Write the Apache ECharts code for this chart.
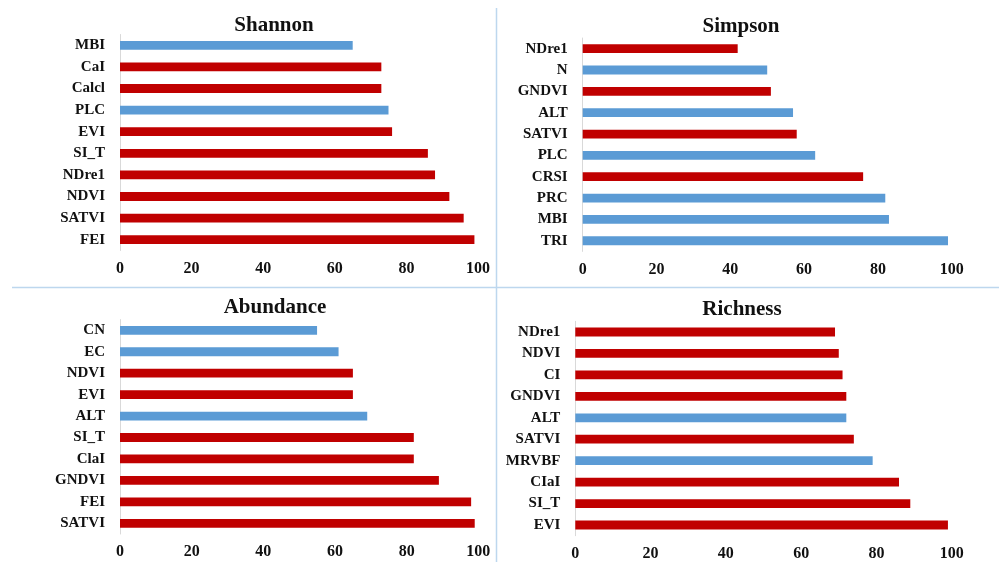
<!DOCTYPE html>
<html>
<head>
<meta charset="utf-8">
<script src="https://cdn.jsdelivr.net/npm/echarts@6/dist/echarts.min.js"></script>
<style>
html,body{margin:0;padding:0;background:#fff;}
#c{width:1001px;height:562px;}
</style>
</head>
<body>
<div id="c"></div>
<script>
// ---- data (top to bottom order) ----
const shannonCats = ['MBI','CaI','Calcl','PLC','EVI','SI_T','NDre1','NDVI','SATVI','FEI'];
const shannonVals = [65,73,73,75,76,86,88,92,96,99];
const shannonGroup = ['b','r','r','b','r','r','r','r','r','r'];

const simpsonCats = ['NDre1','N','GNDVI','ALT','SATVI','PLC','CRSI','PRC','MBI','TRI'];
const simpsonVals = [42,50,51,57,58,63,76,82,83,99];
const simpsonGroup = ['r','b','r','b','r','b','r','b','b','b'];

const abundanceCats = ['CN','EC','NDVI','EVI','ALT','SI_T','ClaI','GNDVI','FEI','SATVI'];
const abundanceVals = [55,61,65,65,69,82,82,89,98,99];
const abundanceGroup = ['b','b','r','r','b','r','r','r','r','r'];

const richnessCats = ['NDre1','NDVI','CI','GNDVI','ALT','SATVI','MRVBF','CIaI','SI_T','EVI'];
const richnessVals = [69,70,71,72,72,74,79,86,89,99];
const richnessGroup = ['r','r','r','r','b','r','b','r','r','r'];

const xTicks = [0,20,40,60,80,100];

// ---- build ----
const RED = '#C00000', BLUE = '#5B9BD5';
const FONT = '"Liberation Serif", "DejaVu Serif", serif';
const panels = [
  {title:'Shannon',  cats:shannonCats,  vals:shannonVals,  grp:shannonGroup,  grid:{left:120,   top:34.5, width:358,   height:216},   tx:269, ty:10},
  {title:'Simpson',  cats:simpsonCats,  vals:simpsonVals,  grp:simpsonGroup,  grid:{left:582.7, top:38,   width:369,   height:213.4}, tx:736, ty:11},
  {title:'Abundance',cats:abundanceCats,vals:abundanceVals,grp:abundanceGroup,grid:{left:120,   top:319.6,width:358.3, height:214.4}, tx:270, ty:292},
  {title:'Richness', cats:richnessCats, vals:richnessVals, grp:richnessGroup, grid:{left:575.3, top:321.3,width:376.4, height:214.4}, tx:737, ty:294}
];

const option = {
  animation:false,
  backgroundColor:'#fff',
  title: panels.map(p => ({
    text:p.title, left:p.tx, top:p.ty, textAlign:'center',
    textStyle:{fontFamily:FONT, fontWeight:'bold', fontSize:21, color:'#111'}
  })),
  grid: panels.map(p => Object.assign({containLabel:false}, p.grid)),
  xAxis: panels.map((p,i) => ({
    type:'value', gridIndex:i, min:xTicks[0], max:xTicks[xTicks.length-1], interval:xTicks[1]-xTicks[0],
    axisLine:{show:false}, axisTick:{show:false}, splitLine:{show:false},
    axisLabel:{fontFamily:FONT, fontWeight:'bold', fontSize:16, color:'#111', margin:10}
  })),
  yAxis: panels.map((p,i) => ({
    type:'category', gridIndex:i, data:p.cats, inverse:true,
    axisLine:{show:true, lineStyle:{color:'#D9D9D9', width:1}},
    axisTick:{show:false}, splitLine:{show:false},
    axisLabel:{fontFamily:FONT, fontWeight:'bold', fontSize:15, color:'#111', margin:15}
  })),
  series: panels.map((p,i) => ({
    type:'bar', xAxisIndex:i, yAxisIndex:i, barWidth:8.8,
    data:p.vals.map((v,j) => ({value:v, itemStyle:{color: p.grp[j]==='b' ? BLUE : RED}}))
  })),
  graphic:[
    {type:'line', shape:{x1:496.5, y1:8, x2:496.5, y2:562}, style:{stroke:'#BDD7EE', lineWidth:1.5}, silent:true},
    {type:'line', shape:{x1:12, y1:287.5, x2:999, y2:287.5}, style:{stroke:'#BDD7EE', lineWidth:1.5}, silent:true}
  ]
};

const chart = echarts.init(document.getElementById('c'), null, {renderer:'canvas'});
chart.setOption(option);
</script>
</body>
</html>
